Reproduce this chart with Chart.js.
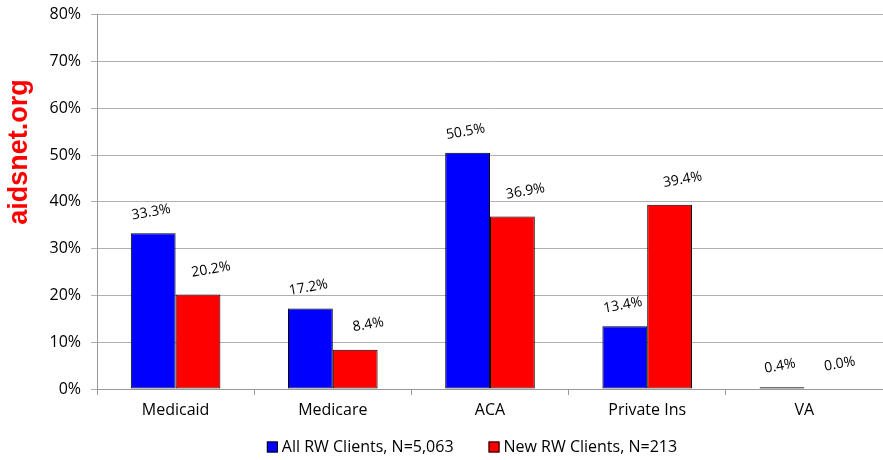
<!DOCTYPE html>
<html>
<head>
<meta charset="utf-8">
<script src="https://cdn.jsdelivr.net/npm/chart.js@4/dist/chart.umd.min.js"></script>
<style>
  html, body { margin: 0; padding: 0; background: #fff; }
  #wrap { width: 883px; height: 460px; position: relative; }
</style>
</head>
<body>
<div id="wrap"><canvas id="chart"></canvas></div>
<script>
const categories = ['Medicaid', 'Medicare', 'ACA', 'Private Ins', 'VA']
const allClients = [33.3, 17.2, 50.5, 13.4, 0.4]
const newClients = [20.2, 8.4, 36.9, 39.4, 0.0]
const seriesNames = ['All RW Clients, N=5,063', 'New RW Clients, N=213']
const seriesColors = ['#0000ff', '#ff0000']
const yTicks = [0, 10, 20, 30, 40, 50, 60, 70, 80]

const FONT = "'Open Sans', 'Liberation Sans', sans-serif"

// value labels above each bar, slightly tilted like the original
// (the red series' labels sit a bit higher and to the right)
const labelShift = [{ dx: -2, dy: -21 }, { dx: 13, dy: -25 }]
const barLabels = {
  id: 'barLabels',
  afterDatasetsDraw(chart) {
    const ctx = chart.ctx
    ctx.save()
    ctx.font = '14px ' + FONT
    ctx.fillStyle = '#000'
    ctx.textAlign = 'center'
    ctx.textBaseline = 'middle'
    chart.data.datasets.forEach((ds, i) => {
      chart.getDatasetMeta(i).data.forEach((bar, j) => {
        ctx.save()
        ctx.translate(bar.x + labelShift[i].dx, bar.y + labelShift[i].dy)
        ctx.rotate(-10 * Math.PI / 180)
        ctx.fillText(ds.data[j].toFixed(1) + '%', 0, 0)
        ctx.restore()
      })
    })
    ctx.restore()
  }
}

// legend drawn by hand so the gap between the two entries matches
const bottomLegend = {
  id: 'bottomLegend',
  afterDraw(chart) {
    const ctx = chart.ctx
    const area = chart.chartArea
    const gap = 35, box = 11
    ctx.save()
    ctx.font = '16px ' + FONT
    ctx.textBaseline = 'middle'
    const widths = chart.data.datasets.map(ds => box + 4 + ctx.measureText(ds.label).width)
    const total = widths.reduce((a, b) => a + b, 0) + gap * (widths.length - 1)
    let x = (area.left + area.right) / 2 - 18 - total / 2
    const y = 447
    chart.data.datasets.forEach((ds, i) => {
      ctx.fillStyle = ds.backgroundColor
      ctx.fillRect(x, y - box / 2, box, box)
      ctx.strokeStyle = '#000'
      ctx.lineWidth = 1
      ctx.strokeRect(x + 0.5, y - box / 2 + 0.5, box - 1, box - 1)
      ctx.fillStyle = '#000'
      ctx.fillText(ds.label, x + box + 4, y)
      x += widths[i] + gap
    })
    ctx.restore()
  }
}

const watermark = {
  id: 'watermark',
  afterDraw(chart) {
    const ctx = chart.ctx
    ctx.save()
    ctx.translate(20, 152)
    ctx.rotate(-Math.PI / 2)
    ctx.font = "bold 27px 'Liberation Sans', Arial, sans-serif"
    ctx.fillStyle = '#ff0000'
    ctx.textAlign = 'center'
    ctx.textBaseline = 'middle'
    ctx.fillText('aidsnet.org', 0, 0)
    ctx.restore()
  }
}

new Chart(document.getElementById('chart').getContext('2d'), {
  type: 'bar',
  data: {
    labels: categories,
    datasets: [
      { label: seriesNames[0], data: allClients, backgroundColor: seriesColors[0], borderColor: '#000', borderWidth: 1, borderSkipped: false },
      { label: seriesNames[1], data: newClients, backgroundColor: seriesColors[1], borderColor: '#000', borderWidth: 1, borderSkipped: false }
    ]
  },
  options: {
    responsive: true,
    maintainAspectRatio: false,
    animation: false,
    layout: { padding: { top: 10, right: 0, left: 0, bottom: 34 } },
    datasets: { bar: { categoryPercentage: 0.57, barPercentage: 1 } },
    plugins: {
      tooltip: { enabled: false },
      legend: { display: false }
    },
    scales: {
      x: {
        afterFit(scale) { scale.height = 37 },
        grid: { display: true, drawOnChartArea: false, offset: true, tickLength: 6, color: '#999' },
        border: { color: '#999' },
        ticks: { color: '#000', font: { family: FONT, size: 16 }, padding: 6 }
      },
      y: {
        min: 0, max: 80,
        afterFit(scale) { scale.width = 97 },
        afterBuildTicks(scale) { scale.ticks = yTicks.map(v => ({ value: v })) },
        grid: { color: '#b0b0b0', tickLength: 6 },
        border: { color: '#999' },
        ticks: { color: '#000', font: { family: FONT, size: 16, lineHeight: 0.6 }, padding: 10, callback: v => v + '%' }
      }
    }
  },
  plugins: [barLabels, bottomLegend, watermark]
})
</script>
</body>
</html>
